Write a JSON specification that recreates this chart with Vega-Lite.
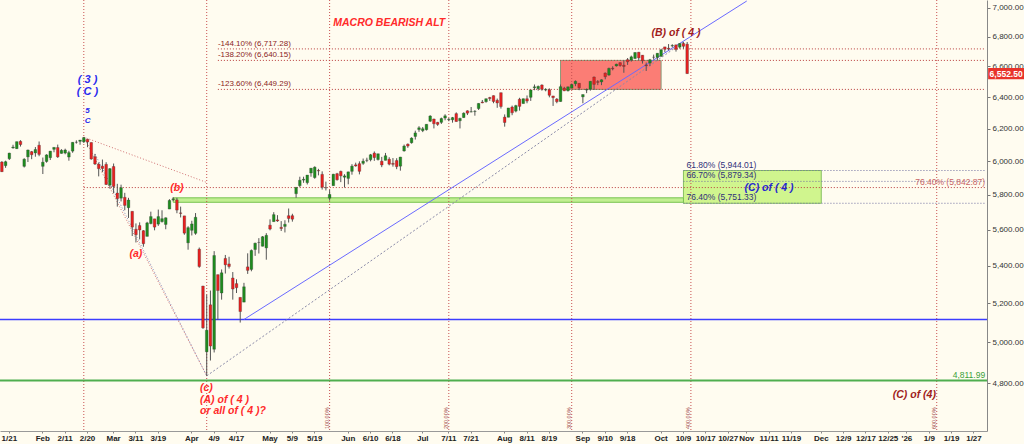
{
  "$schema": "https://vega.github.io/schema/vega-lite/v6.json",
  "width": 987,
  "height": 431,
  "autosize": {"type": "none"},
  "padding": {"left": 0, "top": 0, "right": 37, "bottom": 13},
  "background": "#fffcf0",
  "config": {"view": {"stroke": null}, "font": "Liberation Sans", "axis": {"grid": false}},
  "datasets": {
    "ohlc": [
      {"d":"2025-01-16","o":5995,"h":6000,"l":5935,"c":5937},
      {"d":"2025-01-17","o":5973,"h":6003,"l":5960,"c":5997},
      {"d":"2025-01-21","o":6015,"h":6051,"l":6007,"c":6049},
      {"d":"2025-01-22","o":6081,"h":6100,"l":6076,"c":6086},
      {"d":"2025-01-23","o":6076,"h":6119,"l":6074,"c":6119},
      {"d":"2025-01-24","o":6121,"h":6128,"l":6089,"c":6101},
      {"d":"2025-01-27","o":5969,"h":6018,"l":5962,"c":6012},
      {"d":"2025-01-28","o":6026,"h":6070,"l":5995,"c":6068},
      {"d":"2025-01-29","o":6058,"h":6062,"l":6012,"c":6039},
      {"d":"2025-01-30","o":6050,"h":6086,"l":6027,"c":6071},
      {"d":"2025-01-31","o":6097,"h":6120,"l":6030,"c":6041},
      {"d":"2025-02-03","o":5969,"h":6022,"l":5923,"c":5994},
      {"d":"2025-02-04","o":5998,"h":6042,"l":5991,"c":6038},
      {"d":"2025-02-05","o":6021,"h":6062,"l":6007,"c":6061},
      {"d":"2025-02-06","o":6072,"h":6084,"l":6054,"c":6084},
      {"d":"2025-02-07","o":6083,"h":6101,"l":6020,"c":6026},
      {"d":"2025-02-10","o":6047,"h":6073,"l":6046,"c":6066},
      {"d":"2025-02-11","o":6049,"h":6076,"l":6042,"c":6068},
      {"d":"2025-02-12","o":6025,"h":6063,"l":6003,"c":6052},
      {"d":"2025-02-13","o":6061,"h":6116,"l":6051,"c":6115},
      {"d":"2025-02-14","o":6115,"h":6127,"l":6107,"c":6115},
      {"d":"2025-02-18","o":6121,"h":6129,"l":6100,"c":6129},
      {"d":"2025-02-19","o":6118,"h":6147,"l":6111,"c":6144},
      {"d":"2025-02-20","o":6134,"h":6134,"l":6085,"c":6117},
      {"d":"2025-02-21","o":6114,"h":6114,"l":6009,"c":6013},
      {"d":"2025-02-24","o":6027,"h":6044,"l":5977,"c":5983},
      {"d":"2025-02-25","o":5982,"h":5992,"l":5909,"c":5955},
      {"d":"2025-02-26","o":5970,"h":6010,"l":5935,"c":5956},
      {"d":"2025-02-27","o":5981,"h":5994,"l":5858,"c":5861},
      {"d":"2025-02-28","o":5857,"h":5959,"l":5837,"c":5955},
      {"d":"2025-03-03","o":5968,"h":5986,"l":5810,"c":5849},
      {"d":"2025-03-04","o":5811,"h":5865,"l":5732,"c":5778},
      {"d":"2025-03-05","o":5781,"h":5860,"l":5762,"c":5842},
      {"d":"2025-03-06","o":5786,"h":5812,"l":5711,"c":5739},
      {"d":"2025-03-07","o":5726,"h":5783,"l":5667,"c":5770},
      {"d":"2025-03-10","o":5705,"h":5705,"l":5565,"c":5615},
      {"d":"2025-03-11","o":5603,"h":5636,"l":5529,"c":5572},
      {"d":"2025-03-12","o":5624,"h":5642,"l":5546,"c":5599},
      {"d":"2025-03-13","o":5595,"h":5598,"l":5505,"c":5522},
      {"d":"2025-03-14","o":5563,"h":5645,"l":5563,"c":5639},
      {"d":"2025-03-17","o":5635,"h":5703,"l":5631,"c":5675},
      {"d":"2025-03-18","o":5662,"h":5662,"l":5597,"c":5615},
      {"d":"2025-03-19","o":5632,"h":5715,"l":5622,"c":5675},
      {"d":"2025-03-20","o":5646,"h":5711,"l":5641,"c":5663},
      {"d":"2025-03-21","o":5630,"h":5670,"l":5603,"c":5668},
      {"d":"2025-03-24","o":5718,"h":5775,"l":5718,"c":5768},
      {"d":"2025-03-25","o":5772,"h":5787,"l":5764,"c":5777},
      {"d":"2025-03-26","o":5771,"h":5783,"l":5694,"c":5712},
      {"d":"2025-03-27","o":5696,"h":5732,"l":5670,"c":5693},
      {"d":"2025-03-28","o":5679,"h":5679,"l":5572,"c":5581},
      {"d":"2025-03-31","o":5527,"h":5620,"l":5489,"c":5612},
      {"d":"2025-04-01","o":5597,"h":5651,"l":5568,"c":5633},
      {"d":"2025-04-02","o":5580,"h":5695,"l":5572,"c":5671},
      {"d":"2025-04-03","o":5492,"h":5501,"l":5390,"c":5397},
      {"d":"2025-04-04","o":5292,"h":5293,"l":5069,"c":5074},
      {"d":"2025-04-07","o":4953,"h":5246,"l":4835,"c":5062},
      {"d":"2025-04-08","o":5193,"h":5268,"l":4910,"c":4982},
      {"d":"2025-04-09","o":4966,"h":5481,"l":4950,"c":5457},
      {"d":"2025-04-10","o":5353,"h":5353,"l":5115,"c":5268},
      {"d":"2025-04-11","o":5255,"h":5381,"l":5220,"c":5363},
      {"d":"2025-04-14","o":5441,"h":5460,"l":5359,"c":5406},
      {"d":"2025-04-15","o":5411,"h":5450,"l":5386,"c":5397},
      {"d":"2025-04-16","o":5335,"h":5367,"l":5220,"c":5276},
      {"d":"2025-04-17","o":5305,"h":5328,"l":5255,"c":5283},
      {"d":"2025-04-21","o":5232,"h":5232,"l":5101,"c":5158},
      {"d":"2025-04-22","o":5207,"h":5309,"l":5207,"c":5288},
      {"d":"2025-04-23","o":5395,"h":5469,"l":5357,"c":5376},
      {"d":"2025-04-24","o":5381,"h":5490,"l":5371,"c":5485},
      {"d":"2025-04-25","o":5490,"h":5528,"l":5455,"c":5525},
      {"d":"2025-04-28","o":5529,"h":5553,"l":5468,"c":5529},
      {"d":"2025-04-29","o":5508,"h":5565,"l":5507,"c":5561},
      {"d":"2025-04-30","o":5499,"h":5581,"l":5434,"c":5569},
      {"d":"2025-05-01","o":5626,"h":5659,"l":5597,"c":5604},
      {"d":"2025-05-02","o":5646,"h":5700,"l":5646,"c":5686},
      {"d":"2025-05-05","o":5656,"h":5683,"l":5645,"c":5650},
      {"d":"2025-05-06","o":5614,"h":5649,"l":5593,"c":5607},
      {"d":"2025-05-07","o":5619,"h":5654,"l":5585,"c":5631},
      {"d":"2025-05-08","o":5680,"h":5721,"l":5641,"c":5664},
      {"d":"2025-05-09","o":5680,"h":5691,"l":5646,"c":5660},
      {"d":"2025-05-12","o":5807,"h":5845,"l":5783,"c":5844},
      {"d":"2025-05-13","o":5854,"h":5907,"l":5845,"c":5886},
      {"d":"2025-05-14","o":5887,"h":5907,"l":5871,"c":5892},
      {"d":"2025-05-15","o":5872,"h":5917,"l":5861,"c":5917},
      {"d":"2025-05-16","o":5929,"h":5958,"l":5907,"c":5958},
      {"d":"2025-05-19","o":5902,"h":5969,"l":5895,"c":5964},
      {"d":"2025-05-20","o":5944,"h":5954,"l":5915,"c":5941},
      {"d":"2025-05-21","o":5921,"h":5939,"l":5831,"c":5845},
      {"d":"2025-05-22","o":5842,"h":5878,"l":5826,"c":5842},
      {"d":"2025-05-23","o":5781,"h":5829,"l":5767,"c":5803},
      {"d":"2025-05-27","o":5854,"h":5924,"l":5854,"c":5922},
      {"d":"2025-05-28","o":5925,"h":5930,"l":5884,"c":5889},
      {"d":"2025-05-29","o":5939,"h":5943,"l":5875,"c":5912},
      {"d":"2025-05-30","o":5904,"h":5922,"l":5843,"c":5912},
      {"d":"2025-06-02","o":5897,"h":5937,"l":5862,"c":5936},
      {"d":"2025-06-03","o":5939,"h":5982,"l":5919,"c":5970},
      {"d":"2025-06-04","o":5978,"h":5991,"l":5967,"c":5971},
      {"d":"2025-06-05","o":5985,"h":5999,"l":5921,"c":5939},
      {"d":"2025-06-06","o":5987,"h":6016,"l":5978,"c":6000},
      {"d":"2025-06-09","o":6005,"h":6021,"l":5994,"c":6006},
      {"d":"2025-06-10","o":6009,"h":6044,"l":5999,"c":6039},
      {"d":"2025-06-11","o":6049,"h":6059,"l":6002,"c":6022},
      {"d":"2025-06-12","o":6010,"h":6045,"l":6004,"c":6045},
      {"d":"2025-06-13","o":6000,"h":6026,"l":5964,"c":5977},
      {"d":"2025-06-16","o":6005,"h":6050,"l":6005,"c":6033},
      {"d":"2025-06-17","o":6012,"h":6024,"l":5975,"c":5982},
      {"d":"2025-06-18","o":5987,"h":6019,"l":5967,"c":5981},
      {"d":"2025-06-20","o":6004,"h":6018,"l":5952,"c":5967},
      {"d":"2025-06-23","o":5970,"h":6026,"l":5943,"c":6025},
      {"d":"2025-06-24","o":6062,"h":6101,"l":6058,"c":6092},
      {"d":"2025-06-25","o":6104,"h":6108,"l":6081,"c":6092},
      {"d":"2025-06-26","o":6112,"h":6146,"l":6107,"c":6141},
      {"d":"2025-06-27","o":6151,"h":6187,"l":6132,"c":6173},
      {"d":"2025-06-30","o":6194,"h":6215,"l":6180,"c":6205},
      {"d":"2025-07-01","o":6187,"h":6210,"l":6178,"c":6199},
      {"d":"2025-07-02","o":6193,"h":6227,"l":6188,"c":6227},
      {"d":"2025-07-03","o":6246,"h":6284,"l":6241,"c":6279},
      {"d":"2025-07-07","o":6260,"h":6262,"l":6201,"c":6230},
      {"d":"2025-07-08","o":6239,"h":6242,"l":6217,"c":6226},
      {"d":"2025-07-09","o":6239,"h":6269,"l":6229,"c":6263},
      {"d":"2025-07-10","o":6266,"h":6290,"l":6252,"c":6280},
      {"d":"2025-07-11","o":6256,"h":6266,"l":6246,"c":6259},
      {"d":"2025-07-14","o":6255,"h":6273,"l":6237,"c":6269},
      {"d":"2025-07-15","o":6294,"h":6302,"l":6243,"c":6244},
      {"d":"2025-07-16","o":6249,"h":6268,"l":6201,"c":6264},
      {"d":"2025-07-17","o":6269,"h":6302,"l":6267,"c":6297},
      {"d":"2025-07-18","o":6312,"h":6315,"l":6285,"c":6297},
      {"d":"2025-07-21","o":6304,"h":6336,"l":6303,"c":6306},
      {"d":"2025-07-22","o":6307,"h":6316,"l":6281,"c":6309},
      {"d":"2025-07-23","o":6326,"h":6360,"l":6317,"c":6359},
      {"d":"2025-07-24","o":6368,"h":6381,"l":6360,"c":6363},
      {"d":"2025-07-25","o":6370,"h":6390,"l":6364,"c":6389},
      {"d":"2025-07-28","o":6397,"h":6401,"l":6375,"c":6390},
      {"d":"2025-07-29","o":6409,"h":6410,"l":6360,"c":6371},
      {"d":"2025-07-30","o":6379,"h":6390,"l":6331,"c":6362},
      {"d":"2025-07-31","o":6428,"h":6428,"l":6326,"c":6339},
      {"d":"2025-08-01","o":6272,"h":6289,"l":6212,"c":6238},
      {"d":"2025-08-04","o":6271,"h":6330,"l":6271,"c":6330},
      {"d":"2025-08-05","o":6336,"h":6345,"l":6284,"c":6299},
      {"d":"2025-08-06","o":6310,"h":6350,"l":6302,"c":6345},
      {"d":"2025-08-07","o":6386,"h":6395,"l":6313,"c":6340},
      {"d":"2025-08-08","o":6358,"h":6390,"l":6358,"c":6389},
      {"d":"2025-08-11","o":6389,"h":6410,"l":6360,"c":6374},
      {"d":"2025-08-12","o":6398,"h":6446,"l":6375,"c":6446},
      {"d":"2025-08-13","o":6460,"h":6481,"l":6444,"c":6466},
      {"d":"2025-08-14","o":6454,"h":6474,"l":6441,"c":6469},
      {"d":"2025-08-15","o":6478,"h":6482,"l":6441,"c":6450},
      {"d":"2025-08-18","o":6445,"h":6457,"l":6437,"c":6449},
      {"d":"2025-08-19","o":6447,"h":6456,"l":6398,"c":6411},
      {"d":"2025-08-20","o":6407,"h":6407,"l":6343,"c":6396},
      {"d":"2025-08-21","o":6387,"h":6393,"l":6360,"c":6370},
      {"d":"2025-08-22","o":6371,"h":6481,"l":6370,"c":6467},
      {"d":"2025-08-25","o":6457,"h":6466,"l":6438,"c":6440},
      {"d":"2025-08-26","o":6440,"h":6467,"l":6436,"c":6466},
      {"d":"2025-08-27","o":6457,"h":6487,"l":6457,"c":6481},
      {"d":"2025-08-28","o":6486,"h":6508,"l":6470,"c":6502},
      {"d":"2025-08-29","o":6489,"h":6489,"l":6444,"c":6460},
      {"d":"2025-09-02","o":6401,"h":6416,"l":6360,"c":6416},
      {"d":"2025-09-03","o":6445,"h":6455,"l":6425,"c":6448},
      {"d":"2025-09-04","o":6451,"h":6503,"l":6441,"c":6502},
      {"d":"2025-09-05","o":6530,"h":6533,"l":6446,"c":6482},
      {"d":"2025-09-08","o":6500,"h":6510,"l":6477,"c":6495},
      {"d":"2025-09-09","o":6498,"h":6515,"l":6477,"c":6512},
      {"d":"2025-09-10","o":6556,"h":6560,"l":6515,"c":6532},
      {"d":"2025-09-11","o":6543,"h":6592,"l":6538,"c":6587},
      {"d":"2025-09-12","o":6588,"h":6601,"l":6574,"c":6584},
      {"d":"2025-09-15","o":6603,"h":6618,"l":6599,"c":6615},
      {"d":"2025-09-16","o":6625,"h":6627,"l":6598,"c":6606},
      {"d":"2025-09-17","o":6608,"h":6639,"l":6558,"c":6600},
      {"d":"2025-09-18","o":6645,"h":6656,"l":6610,"c":6631},
      {"d":"2025-09-19","o":6642,"h":6672,"l":6632,"c":6664},
      {"d":"2025-09-22","o":6653,"h":6695,"l":6650,"c":6693},
      {"d":"2025-09-23","o":6695,"h":6697,"l":6642,"c":6657},
      {"d":"2025-09-24","o":6675,"h":6676,"l":6619,"c":6638},
      {"d":"2025-09-25","o":6610,"h":6626,"l":6570,"c":6605},
      {"d":"2025-09-26","o":6622,"h":6650,"l":6602,"c":6644},
      {"d":"2025-09-29","o":6661,"h":6679,"l":6646,"c":6661},
      {"d":"2025-09-30","o":6660,"h":6689,"l":6640,"c":6688},
      {"d":"2025-10-01","o":6668,"h":6718,"l":6663,"c":6711},
      {"d":"2025-10-02","o":6731,"h":6731,"l":6696,"c":6715},
      {"d":"2025-10-03","o":6722,"h":6750,"l":6708,"c":6716},
      {"d":"2025-10-06","o":6737,"h":6749,"l":6727,"c":6740},
      {"d":"2025-10-07","o":6745,"h":6745,"l":6699,"c":6714},
      {"d":"2025-10-08","o":6729,"h":6755,"l":6719,"c":6754},
      {"d":"2025-10-09","o":6754,"h":6764,"l":6718,"c":6735},
      {"d":"2025-10-10","o":6749,"h":6764,"l":6551,"c":6552.5}
    ]
  },
  "layer": [
    {
      "data": {"values": [{"a": "2025-08-22", "b": "2025-10-01", "lo": 6449.29, "hi": 6640.15}]},
      "mark": {"type": "rect", "fill": "#fb7d75", "stroke": "#8a9a78", "strokeWidth": 1},
      "encoding": {
        "x": {
          "field": "a", "type": "ordinal", "title": null,
          "scale": {
            "type": "band", "paddingInner": 0, "paddingOuter": 0,
            "domain": [
              "2025-01-16","2025-01-17","2025-01-21","2025-01-22","2025-01-23","2025-01-24","2025-01-27","2025-01-28","2025-01-29","2025-01-30","2025-01-31",
              "2025-02-03","2025-02-04","2025-02-05","2025-02-06","2025-02-07","2025-02-10","2025-02-11","2025-02-12","2025-02-13","2025-02-14","2025-02-18","2025-02-19","2025-02-20","2025-02-21","2025-02-24","2025-02-25","2025-02-26","2025-02-27","2025-02-28",
              "2025-03-03","2025-03-04","2025-03-05","2025-03-06","2025-03-07","2025-03-10","2025-03-11","2025-03-12","2025-03-13","2025-03-14","2025-03-17","2025-03-18","2025-03-19","2025-03-20","2025-03-21","2025-03-24","2025-03-25","2025-03-26","2025-03-27","2025-03-28","2025-03-31",
              "2025-04-01","2025-04-02","2025-04-03","2025-04-04","2025-04-07","2025-04-08","2025-04-09","2025-04-10","2025-04-11","2025-04-14","2025-04-15","2025-04-16","2025-04-17","2025-04-21","2025-04-22","2025-04-23","2025-04-24","2025-04-25","2025-04-28","2025-04-29","2025-04-30",
              "2025-05-01","2025-05-02","2025-05-05","2025-05-06","2025-05-07","2025-05-08","2025-05-09","2025-05-12","2025-05-13","2025-05-14","2025-05-15","2025-05-16","2025-05-19","2025-05-20","2025-05-21","2025-05-22","2025-05-23","2025-05-27","2025-05-28","2025-05-29","2025-05-30",
              "2025-06-02","2025-06-03","2025-06-04","2025-06-05","2025-06-06","2025-06-09","2025-06-10","2025-06-11","2025-06-12","2025-06-13","2025-06-16","2025-06-17","2025-06-18","2025-06-20","2025-06-23","2025-06-24","2025-06-25","2025-06-26","2025-06-27","2025-06-30",
              "2025-07-01","2025-07-02","2025-07-03","2025-07-07","2025-07-08","2025-07-09","2025-07-10","2025-07-11","2025-07-14","2025-07-15","2025-07-16","2025-07-17","2025-07-18","2025-07-21","2025-07-22","2025-07-23","2025-07-24","2025-07-25","2025-07-28","2025-07-29","2025-07-30","2025-07-31",
              "2025-08-01","2025-08-04","2025-08-05","2025-08-06","2025-08-07","2025-08-08","2025-08-11","2025-08-12","2025-08-13","2025-08-14","2025-08-15","2025-08-18","2025-08-19","2025-08-20","2025-08-21","2025-08-22","2025-08-25","2025-08-26","2025-08-27","2025-08-28","2025-08-29",
              "2025-09-02","2025-09-03","2025-09-04","2025-09-05","2025-09-08","2025-09-09","2025-09-10","2025-09-11","2025-09-12","2025-09-15","2025-09-16","2025-09-17","2025-09-18","2025-09-19","2025-09-22","2025-09-23","2025-09-24","2025-09-25","2025-09-26","2025-09-29","2025-09-30",
              "2025-10-01","2025-10-02","2025-10-03","2025-10-06","2025-10-07","2025-10-08","2025-10-09","2025-10-10","2025-10-13","2025-10-14","2025-10-15","2025-10-16","2025-10-17","2025-10-20","2025-10-21","2025-10-22","2025-10-23","2025-10-24","2025-10-27","2025-10-28","2025-10-29","2025-10-30","2025-10-31",
              "2025-11-03","2025-11-04","2025-11-05","2025-11-06","2025-11-07","2025-11-10","2025-11-11","2025-11-12","2025-11-13","2025-11-14","2025-11-17","2025-11-18","2025-11-19","2025-11-20","2025-11-21","2025-11-24","2025-11-25","2025-11-26","2025-11-27","2025-11-28",
              "2025-12-01","2025-12-02","2025-12-03","2025-12-04","2025-12-05","2025-12-08","2025-12-09","2025-12-10","2025-12-11","2025-12-12","2025-12-15","2025-12-16","2025-12-17","2025-12-18","2025-12-19","2025-12-22","2025-12-23","2025-12-24","2025-12-25","2025-12-26","2025-12-29","2025-12-30","2025-12-31",
              "2026-01-01","2026-01-02","2026-01-05","2026-01-06","2026-01-07","2026-01-08","2026-01-09","2026-01-12","2026-01-13","2026-01-14","2026-01-15","2026-01-16","2026-01-19","2026-01-20","2026-01-21","2026-01-22","2026-01-23","2026-01-26","2026-01-27","2026-01-28","2026-01-29","2026-01-30"
            ]
          },
          "axis": {
            "values": ["2025-01-21","2025-02-03","2025-02-11","2025-02-20","2025-03-03","2025-03-11","2025-03-19","2025-04-01","2025-04-09","2025-04-17","2025-05-01","2025-05-09","2025-05-19","2025-06-02","2025-06-10","2025-06-18","2025-07-01","2025-07-11","2025-07-21","2025-08-01","2025-08-11","2025-08-19","2025-09-02","2025-09-10","2025-09-18","2025-10-01","2025-10-09","2025-10-17","2025-10-27","2025-11-03","2025-11-11","2025-11-19","2025-12-01","2025-12-09","2025-12-17","2025-12-25","2026-01-01","2026-01-09","2026-01-19","2026-01-27"],
            "labelExpr": "utcdate(toDate(datum.value)) <= 3 ? (utcmonth(toDate(datum.value)) == 0 ? \"'26\" : utcFormat(toDate(datum.value), '%b')) : utcFormat(toDate(datum.value), '%-m/%-d')",
            "labelAngle": 0, "labelFontSize": 8, "labelFontWeight": "bold", "labelColor": "#222",
            "labelOverlap": false, "labelPadding": 1, "labelBound": false, "labelFlush": false,
            "tickSize": 2, "tickColor": "#888", "domainColor": "#999", "title": null, "grid": false
          }
        },
        "x2": {"field": "b"},
        "y": {
          "field": "lo", "type": "quantitative", "title": null,
          "scale": {"type": "log", "domain": [4574, 7056], "nice": false, "zero": false},
          "axis": {
            "orient": "right", "values": [4800, 5000, 5200, 5400, 5600, 5800, 6000, 6200, 6400, 6600, 6800, 7000],
            "format": ",.2f", "labelFontSize": 8, "labelColor": "#333", "tickSize": 3, "tickColor": "#777",
            "domainColor": "#888", "labelPadding": 2, "title": null, "grid": false
          }
        },
        "y2": {"field": "hi"}
      }
    },
    {
      "data": {"values": [{"a": "2025-10-09", "b": "2025-12-01", "lo": 5751.33, "hi": 5944.01}]},
      "mark": {"type": "rect", "fill": "#d0f58e", "stroke": "#86c060", "strokeWidth": 1},
      "encoding": {
        "x": {"field": "a", "type": "ordinal", "title": null},
        "x2": {"field": "b"},
        "y": {"field": "lo", "type": "quantitative", "title": null},
        "y2": {"field": "hi"}
      }
    },
    {
      "data": {"values": [{"a": "2025-03-25", "b": "2025-10-09", "lo": 5757, "hi": 5783}]},
      "mark": {"type": "rect", "fill": "#c2ef92", "stroke": "#78c450", "strokeWidth": 1},
      "encoding": {
        "x": {"field": "a", "type": "ordinal", "title": null},
        "x2": {"field": "b"},
        "y": {"field": "lo", "type": "quantitative", "title": null},
        "y2": {"field": "hi"}
      }
    },
    {
      "data": {"values": [{"d": "2025-02-19"}, {"d": "2025-04-07"}, {"d": "2025-05-23"}, {"d": "2025-07-11"}, {"d": "2025-08-27"}, {"d": "2025-10-13"}, {"d": "2026-01-13"}]},
      "mark": {"type": "rule", "color": "#c85050", "strokeWidth": 1, "strokeDash": [1, 2]},
      "encoding": {"x": {"field": "d", "type": "ordinal", "title": null}}
    },
    {
      "data": {"values": [{"d": "2025-04-10", "v": 6717.28}, {"d": "2025-04-10", "v": 6640.15}, {"d": "2025-04-10", "v": 6449.29}, {"d": "2025-02-19", "v": 5842.87}]},
      "mark": {"type": "rule", "color": "#b83a3a", "strokeWidth": 1, "strokeDash": [1, 2]},
      "encoding": {
        "x": {"field": "d", "type": "ordinal", "title": null},
        "x2": {"datum": "2026-01-30"},
        "y": {"field": "v", "type": "quantitative", "title": null}
      }
    },
    {
      "data": {"values": [{"d": "2025-10-09", "v": 5944.01}, {"d": "2025-10-09", "v": 5879.34}, {"d": "2025-10-09", "v": 5751.33}]},
      "mark": {"type": "rule", "color": "#7070a0", "strokeWidth": 1, "strokeDash": [1, 2]},
      "encoding": {
        "x": {"field": "d", "type": "ordinal", "title": null},
        "x2": {"datum": "2026-01-30"},
        "y": {"field": "v", "type": "quantitative", "title": null}
      }
    },
    {
      "data": {"values": [{"v": 5117}]},
      "mark": {"type": "rule", "color": "#3c3cff", "strokeWidth": 1.5},
      "encoding": {"y": {"field": "v", "type": "quantitative", "title": null}}
    },
    {
      "data": {"values": [{"v": 4811.99}]},
      "mark": {"type": "rule", "color": "#4fae4f", "strokeWidth": 2},
      "encoding": {"y": {"field": "v", "type": "quantitative", "title": null}}
    },
    {
      "data": {"values": [{"d": "2025-04-22", "v": 5117}, {"d": "2025-11-03", "v": 7049}]},
      "mark": {"type": "line", "color": "#6a6aff", "strokeWidth": 1},
      "encoding": {
        "x": {"field": "d", "type": "ordinal", "title": null},
        "y": {"field": "v", "type": "quantitative", "title": null}
      }
    },
    {
      "data": {"values": [{"d": "2025-04-07", "v": 4835}, {"d": "2025-10-09", "v": 6764}]},
      "mark": {"type": "line", "color": "#8a8aa8", "strokeWidth": 1, "strokeDash": [2, 2]},
      "encoding": {
        "x": {"field": "d", "type": "ordinal", "title": null},
        "y": {"field": "v", "type": "quantitative", "title": null}
      }
    },
    {
      "data": {"values": [
        {"id": "p1", "d": "2025-02-19", "v": 6147}, {"id": "p1", "d": "2025-04-07", "v": 5873},
        {"id": "p2", "d": "2025-02-19", "v": 6147}, {"id": "p2", "d": "2025-04-07", "v": 4835}
      ]},
      "mark": {"type": "line", "color": "#d07070", "strokeWidth": 1, "strokeDash": [1, 2]},
      "encoding": {
        "x": {"field": "d", "type": "ordinal", "title": null},
        "y": {"field": "v", "type": "quantitative", "title": null},
        "detail": {"field": "id"}
      }
    },
    {
      "data": {"values": [{"d": "2025-02-24", "v": 6044}, {"d": "2025-04-07", "v": 4835}]},
      "mark": {"type": "line", "color": "#8888bb", "strokeWidth": 1, "strokeDash": [1, 2]},
      "encoding": {
        "x": {"field": "d", "type": "ordinal", "title": null},
        "y": {"field": "v", "type": "quantitative", "title": null}
      }
    },
    {
      "data": {"name": "ohlc"},
      "mark": {"type": "rule", "color": "#555", "strokeWidth": 1},
      "encoding": {
        "x": {"field": "d", "type": "ordinal", "title": null},
        "y": {"field": "l", "type": "quantitative", "title": null},
        "y2": {"field": "h"}
      }
    },
    {
      "data": {"name": "ohlc"},
      "mark": {"type": "bar", "width": {"band": 0.72}, "stroke": "#333", "strokeWidth": 0.3},
      "encoding": {
        "x": {"field": "d", "type": "ordinal", "title": null},
        "y": {"field": "o", "type": "quantitative", "title": null},
        "y2": {"field": "c"},
        "color": {"condition": {"test": "datum.c >= datum.o", "value": "#1e8c1e"}, "value": "#e82020"}
      }
    },
    {
      "data": {"values": [{"d": "2025-02-20", "v": 6511, "t": "( 3 )"}, {"d": "2025-02-20", "v": 6433, "t": "( C )"}]},
      "mark": {"type": "text", "color": "#2a2aee", "fontSize": 11, "fontWeight": "bold", "fontStyle": "italic", "align": "center", "baseline": "middle"},
      "encoding": {
        "x": {"field": "d", "type": "ordinal", "title": null},
        "y": {"field": "v", "type": "quantitative", "title": null},
        "text": {"field": "t"}
      }
    },
    {
      "data": {"values": [{"d": "2025-02-20", "v": 6308, "t": "5"}, {"d": "2025-02-20", "v": 6250, "t": "C"}]},
      "mark": {"type": "text", "color": "#2a2aee", "fontSize": 8, "fontWeight": "bold", "fontStyle": "italic", "align": "center", "baseline": "middle"},
      "encoding": {
        "x": {"field": "d", "type": "ordinal", "title": null},
        "y": {"field": "v", "type": "quantitative", "title": null},
        "text": {"field": "t"}
      }
    },
    {
      "data": {"values": [{"d": "2025-06-17", "v": 6895, "t": "MACRO BEARISH ALT"}, {"d": "2025-03-26", "v": 5843, "t": "(b)"}, {"d": "2025-03-11", "v": 5466, "t": "(a)"}]},
      "mark": {"type": "text", "color": "#ff2a2a", "fontSize": 10.5, "fontWeight": "bold", "fontStyle": "italic", "align": "center", "baseline": "middle"},
      "encoding": {
        "x": {"field": "d", "type": "ordinal", "title": null},
        "y": {"field": "v", "type": "quantitative", "title": null},
        "text": {"field": "t"}
      }
    },
    {
      "data": {"values": [{"d": "2025-04-04", "v": 4776, "t": "(c)"}, {"d": "2025-04-04", "v": 4719, "t": "(A) of ( 4 )"}, {"d": "2025-04-04", "v": 4667, "t": "or all of ( 4 )?"}]},
      "mark": {"type": "text", "color": "#ff2a2a", "fontSize": 10.5, "fontWeight": "bold", "fontStyle": "italic", "align": "left", "baseline": "middle", "dx": -3},
      "encoding": {
        "x": {"field": "d", "type": "ordinal", "title": null},
        "y": {"field": "v", "type": "quantitative", "title": null},
        "text": {"field": "t"}
      }
    },
    {
      "data": {"values": [{"d": "2025-10-07", "v": 6826, "t": "(B) of ( 4 )"}, {"d": "2026-01-05", "v": 4745, "t": "(C) of (4)"}]},
      "mark": {"type": "text", "color": "#a01c1c", "fontSize": 10.5, "fontWeight": "bold", "fontStyle": "italic", "align": "center", "baseline": "middle"},
      "encoding": {
        "x": {"field": "d", "type": "ordinal", "title": null},
        "y": {"field": "v", "type": "quantitative", "title": null},
        "text": {"field": "t"}
      }
    },
    {
      "data": {"values": [{"d": "2025-04-10", "v": 6717.28, "t": "-144.10% (6,717.28)"}, {"d": "2025-04-10", "v": 6640.15, "t": "-138.20% (6,640.15)"}, {"d": "2025-04-10", "v": 6449.29, "t": "-123.60% (6,449.29)"}]},
      "mark": {"type": "text", "color": "#8b1c1c", "fontSize": 8, "align": "left", "baseline": "bottom", "dy": -1},
      "encoding": {
        "x": {"field": "d", "type": "ordinal", "title": null},
        "y": {"field": "v", "type": "quantitative", "title": null},
        "text": {"field": "t"}
      }
    },
    {
      "data": {"values": [{"d": "2025-10-09", "v": 5944.01, "t": "61.80% (5,944.01)"}, {"d": "2025-10-09", "v": 5879.34, "t": "66.70% (5,879.34)"}, {"d": "2025-10-09", "v": 5751.33, "t": "76.40% (5,751.33)"}]},
      "mark": {"type": "text", "color": "#30307a", "fontSize": 8.5, "align": "left", "baseline": "bottom", "dx": 3, "dy": -1},
      "encoding": {
        "x": {"field": "d", "type": "ordinal", "title": null},
        "y": {"field": "v", "type": "quantitative", "title": null},
        "text": {"field": "t"}
      }
    },
    {
      "data": {"values": [{"d": "2025-11-11", "v": 5843, "t": "(C) of ( 4 )"}]},
      "mark": {"type": "text", "color": "#2626d0", "fontSize": 10.5, "fontWeight": "bold", "fontStyle": "italic", "align": "center", "baseline": "middle"},
      "encoding": {
        "x": {"field": "d", "type": "ordinal", "title": null},
        "y": {"field": "v", "type": "quantitative", "title": null},
        "text": {"field": "t"}
      }
    },
    {
      "data": {"values": [{"d": "2026-01-30", "v": 5842.87, "t": "76.40% (5,842.87)"}]},
      "mark": {"type": "text", "color": "#c86464", "fontSize": 8.5, "align": "right", "baseline": "bottom", "dy": -1},
      "encoding": {
        "x": {"field": "d", "type": "ordinal", "title": null},
        "y": {"field": "v", "type": "quantitative", "title": null},
        "text": {"field": "t"}
      }
    },
    {
      "data": {"values": [{"d": "2026-01-30", "v": 4811.99, "t": "4,811.99"}]},
      "mark": {"type": "text", "color": "#3aa03a", "fontSize": 8.5, "align": "right", "baseline": "bottom", "dy": -1},
      "encoding": {
        "x": {"field": "d", "type": "ordinal", "title": null},
        "y": {"field": "v", "type": "quantitative", "title": null},
        "text": {"field": "t"}
      }
    },
    {
      "data": {"values": [{"d": "2025-05-23", "t": "100.00%"}, {"d": "2025-07-11", "t": "200.00%"}, {"d": "2025-08-27", "t": "300.00%"}, {"d": "2025-10-13", "t": "400.00%"}, {"d": "2026-01-13", "t": "600.00%"}]},
      "mark": {"type": "text", "color": "#a04848", "fontSize": 5.5, "angle": 270, "align": "center", "baseline": "bottom"},
      "encoding": {
        "x": {"field": "d", "type": "ordinal", "title": null},
        "y": {"datum": 4633, "type": "quantitative"},
        "text": {"field": "t"}
      }
    },
    {
      "data": {"values": [{"v": 6552.5}]},
      "mark": {"type": "point", "shape": "M0.5,-0.92H6.5V0.92H0.5Z", "size": 144, "filled": true, "color": "#e8332b", "opacity": 1, "strokeWidth": 0},
      "encoding": {
        "x": {"datum": "2026-01-30", "type": "ordinal"},
        "y": {"field": "v", "type": "quantitative", "title": null}
      }
    },
    {
      "data": {"values": [{"v": 6552.5, "t": "6,552.50"}]},
      "mark": {"type": "text", "color": "#ffffff", "fontSize": 8.5, "fontWeight": "bold", "align": "center", "baseline": "middle", "dx": 21},
      "encoding": {
        "x": {"datum": "2026-01-30", "type": "ordinal"},
        "y": {"field": "v", "type": "quantitative", "title": null},
        "text": {"field": "t"}
      }
    }
  ]
}
